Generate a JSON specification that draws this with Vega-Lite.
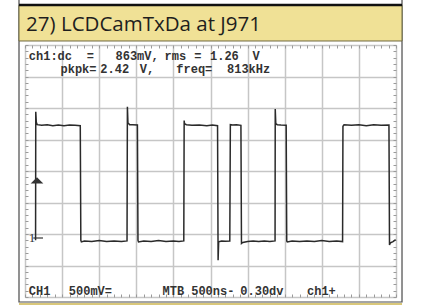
{
  "$schema": "https://vega.github.io/schema/vega-lite/v6.json",
  "width": 371,
  "height": 252,
  "autosize": {"type": "none"},
  "padding": {"left": 25, "top": 45, "right": 33, "bottom": 8},
  "background": "white",
  "config": {"view": {"stroke": null}},
  "data": {"values": [{}]},
  "datasets": {
    "trace": [
      {"x": 0.285, "y": -2.2}, {"x": 0.29, "y": 1.88}, {"x": 0.305, "y": 1.55}, {"x": 0.33, "y": 1.47},
      {"x": 0.45, "y": 1.45}, {"x": 0.6, "y": 1.47}, {"x": 0.75, "y": 1.44}, {"x": 0.9, "y": 1.46},
      {"x": 1.05, "y": 1.44}, {"x": 1.2, "y": 1.46}, {"x": 1.35, "y": 1.45}, {"x": 1.49, "y": 1.44},
      {"x": 1.505, "y": -2.2}, {"x": 1.52, "y": -2.25}, {"x": 1.6, "y": -2.22}, {"x": 1.8, "y": -2.24},
      {"x": 2.0, "y": -2.21}, {"x": 2.2, "y": -2.24}, {"x": 2.4, "y": -2.22}, {"x": 2.6, "y": -2.24},
      {"x": 2.75, "y": -2.22},
      {"x": 2.76, "y": 2.04}, {"x": 2.775, "y": 1.52}, {"x": 2.8, "y": 1.5}, {"x": 2.82, "y": 1.47},
      {"x": 2.9, "y": 1.47}, {"x": 3.03, "y": 1.46},
      {"x": 3.045, "y": -2.2}, {"x": 3.06, "y": -2.25}, {"x": 3.2, "y": -2.22}, {"x": 3.4, "y": -2.24},
      {"x": 3.6, "y": -2.21}, {"x": 3.8, "y": -2.24}, {"x": 4.0, "y": -2.22}, {"x": 4.15, "y": -2.24},
      {"x": 4.28, "y": -2.22},
      {"x": 4.29, "y": 1.6}, {"x": 4.3, "y": 1.5}, {"x": 4.35, "y": 1.47}, {"x": 4.5, "y": 1.45},
      {"x": 4.7, "y": 1.46}, {"x": 4.9, "y": 1.44}, {"x": 5.05, "y": 1.46}, {"x": 5.19, "y": 1.44},
      {"x": 5.205, "y": -2.83}, {"x": 5.22, "y": -2.25}, {"x": 5.3, "y": -2.22}, {"x": 5.4, "y": -2.23},
      {"x": 5.52, "y": -2.22},
      {"x": 5.535, "y": 1.47}, {"x": 5.6, "y": 1.46}, {"x": 5.7, "y": 1.47}, {"x": 5.82, "y": 1.45},
      {"x": 5.835, "y": -2.3}, {"x": 5.87, "y": -2.27}, {"x": 6.0, "y": -2.24}, {"x": 6.15, "y": -2.22},
      {"x": 6.3, "y": -2.24}, {"x": 6.45, "y": -2.22}, {"x": 6.6, "y": -2.24}, {"x": 6.74, "y": -2.22},
      {"x": 6.745, "y": 1.97}, {"x": 6.76, "y": 1.5}, {"x": 6.8, "y": 1.47}, {"x": 6.9, "y": 1.46},
      {"x": 7.04, "y": 1.45},
      {"x": 7.055, "y": -2.22}, {"x": 7.07, "y": -2.25}, {"x": 7.2, "y": -2.22}, {"x": 7.4, "y": -2.24},
      {"x": 7.6, "y": -2.22}, {"x": 7.8, "y": -2.24}, {"x": 8.0, "y": -2.21}, {"x": 8.2, "y": -2.24},
      {"x": 8.4, "y": -2.22}, {"x": 8.56, "y": -2.24},
      {"x": 8.57, "y": 1.42}, {"x": 8.6, "y": 1.47}, {"x": 8.8, "y": 1.45}, {"x": 9.0, "y": 1.47},
      {"x": 9.2, "y": 1.44}, {"x": 9.4, "y": 1.47}, {"x": 9.6, "y": 1.45}, {"x": 9.81, "y": 1.46},
      {"x": 9.825, "y": -2.35}, {"x": 9.85, "y": -2.28}, {"x": 9.92, "y": -2.24}, {"x": 9.99, "y": -2.18}
    ],
    "labels": [
      {"text": "ch1:dc", "t": 0.102, "v": 3.508},
      {"text": "=", "t": 1.663, "v": 3.508},
      {"text": "863mV,", "t": 2.439, "v": 3.508},
      {"text": "rms", "t": 3.76, "v": 3.508},
      {"text": "=", "t": 4.563, "v": 3.508},
      {"text": "1.26", "t": 4.987, "v": 3.508},
      {"text": "V", "t": 6.132, "v": 3.508},
      {"text": "pkpk=", "t": 0.957, "v": 3.102},
      {"text": "2.42", "t": 2.03, "v": 3.102},
      {"text": "V,", "t": 3.094, "v": 3.102},
      {"text": "freq=", "t": 4.078, "v": 3.102},
      {"text": "813kHz", "t": 5.445, "v": 3.102},
      {"text": "CH1", "t": 0.102, "v": -3.937},
      {"text": "500mV=", "t": 1.181, "v": -3.937},
      {"text": "MTB", "t": 3.706, "v": -3.937},
      {"text": "500ns-", "t": 4.48, "v": -3.937},
      {"text": "0.30dv", "t": 5.803, "v": -3.937},
      {"text": "ch1+", "t": 7.601, "v": -3.937}
    ]
  },
  "layer": [
    {
      "mark": {"type": "rect", "fillOpacity": 0, "stroke": "#4a4a4a", "strokeWidth": 1.2},
      "encoding": {
        "x": {"datum": -0.1617, "type": "quantitative", "scale": {"domain": [0, 10], "nice": false, "zero": false}, "axis": null},
        "x2": {"datum": 10.162},
        "y": {"datum": 5.46, "type": "quantitative", "scale": {"domain": [-4, 4], "nice": false, "zero": false}, "axis": null},
        "y2": {"datum": -4.159}
      }
    },
    {
      "mark": {"type": "rect", "fill": "#f0e196", "stroke": "#6f6a40", "strokeWidth": 1},
      "encoding": {
        "x": {"datum": -0.1617, "type": "quantitative", "scale": {"domain": [0, 10], "nice": false, "zero": false}, "axis": null},
        "x2": {"datum": 10.162},
        "y": {"datum": 5.27, "type": "quantitative", "scale": {"domain": [-4, 4], "nice": false, "zero": false}, "axis": null},
        "y2": {"datum": 4.127}
      }
    },
    {
      "mark": {"type": "rule", "color": "#111111", "strokeWidth": 2.5},
      "encoding": {
        "x": {"datum": -0.1617, "type": "quantitative", "scale": {"domain": [0, 10], "nice": false, "zero": false}, "axis": null},
        "x2": {"datum": 10.162},
        "y": {"datum": 5.27, "type": "quantitative", "scale": {"domain": [-4, 4], "nice": false, "zero": false}, "axis": null}
      }
    },
    {
      "mark": {"type": "rule", "color": "#d9c77a", "strokeWidth": 2},
      "encoding": {
        "x": {"datum": -0.1617, "type": "quantitative", "scale": {"domain": [0, 10], "nice": false, "zero": false}, "axis": null},
        "x2": {"datum": 10.162},
        "y": {"datum": -4.222, "type": "quantitative", "scale": {"domain": [-4, 4], "nice": false, "zero": false}, "axis": null}
      }
    },
    {
      "mark": {"type": "text", "text": "27) LCDCamTxDa at J971", "font": "Open Sans", "fontSize": 20.5, "color": "#1e1e1e", "align": "left", "baseline": "alphabetic"},
      "encoding": {
        "x": {"datum": 0.03, "type": "quantitative", "scale": {"domain": [0, 10], "nice": false, "zero": false}, "axis": null},
        "y": {"datum": 4.43, "type": "quantitative", "scale": {"domain": [-4, 4], "nice": false, "zero": false}, "axis": null}
      }
    },
    {
      "data": {"name": "trace"},
      "mark": {"type": "line", "color": "#2a2a2a", "strokeWidth": 1.5, "interpolate": "linear"},
      "encoding": {
        "x": {"field": "x", "type": "quantitative", "scale": {"domain": [0, 10], "nice": false, "zero": false},
          "axis": {"orient": "bottom", "values": [0,0.2,0.4,0.6,0.8,1,1.2,1.4,1.6,1.8,2,2.2,2.4,2.6,2.8,3,3.2,3.4,3.6,3.8,4,4.2,4.4,4.6,4.8,5,5.2,5.4,5.6,5.8,6,6.2,6.4,6.6,6.8,7,7.2,7.4,7.6,7.8,8,8.2,8.4,8.6,8.8,9,9.2,9.4,9.6,9.8,10],
            "grid": true, "gridColor": "#c6c6c6", "gridWidth": 1.5,
            "gridOpacity": {"condition": {"test": "abs(datum.value - round(datum.value)) < 0.001", "value": 1}, "value": 0},
            "ticks": true, "tickSize": -3, "tickColor": "#9a9a9a", "tickWidth": 1, "labels": false, "domain": false, "title": null}},
        "y": {"field": "y", "type": "quantitative", "scale": {"domain": [-4, 4], "nice": false, "zero": false},
          "axis": {"orient": "left", "values": [-4,-3.8,-3.6,-3.4,-3.2,-3,-2.8,-2.6,-2.4,-2.2,-2,-1.8,-1.6,-1.4,-1.2,-1,-0.8,-0.6,-0.4,-0.2,0,0.2,0.4,0.6,0.8,1,1.2,1.4,1.6,1.8,2,2.2,2.4,2.6,2.8,3,3.2,3.4,3.6,3.8,4],
            "grid": true, "gridColor": "#c6c6c6", "gridWidth": 1.5,
            "gridOpacity": {"condition": {"test": "abs(datum.value - round(datum.value)) < 0.001", "value": 1}, "value": 0},
            "ticks": true, "tickSize": -3, "tickColor": "#9a9a9a", "tickWidth": 1, "labels": false, "domain": false, "title": null}}
      }
    },
    {
      "mark": {"type": "point", "shape": "M -1 0.5 L 1 0.5 L 0 -0.5 Z", "filled": true, "color": "#333333", "size": 160, "opacity": 1},
      "encoding": {
        "x": {"datum": 0.323, "type": "quantitative", "scale": {"domain": [0, 10], "nice": false, "zero": false},
          "axis": {"orient": "top", "values": [0,0.2,0.4,0.6,0.8,1,1.2,1.4,1.6,1.8,2,2.2,2.4,2.6,2.8,3,3.2,3.4,3.6,3.8,4,4.2,4.4,4.6,4.8,5,5.2,5.4,5.6,5.8,6,6.2,6.4,6.6,6.8,7,7.2,7.4,7.6,7.8,8,8.2,8.4,8.6,8.8,9,9.2,9.4,9.6,9.8,10],
            "grid": false, "ticks": true, "tickSize": -3, "tickColor": "#9a9a9a", "tickWidth": 1, "labels": false, "domain": false, "title": null}},
        "y": {"datum": -0.3, "type": "quantitative", "scale": {"domain": [-4, 4], "nice": false, "zero": false},
          "axis": {"orient": "right", "values": [-4,-3.8,-3.6,-3.4,-3.2,-3,-2.8,-2.6,-2.4,-2.2,-2,-1.8,-1.6,-1.4,-1.2,-1,-0.8,-0.6,-0.4,-0.2,0,0.2,0.4,0.6,0.8,1,1.2,1.4,1.6,1.8,2,2.2,2.4,2.6,2.8,3,3.2,3.4,3.6,3.8,4],
            "grid": false, "ticks": true, "tickSize": -3, "tickColor": "#9a9a9a", "tickWidth": 1, "labels": false, "domain": false, "title": null}}
      }
    },
    {
      "mark": {"type": "rule", "color": "#333333", "strokeWidth": 1.2},
      "encoding": {
        "x": {"datum": 0.224, "type": "quantitative", "scale": {"domain": [0, 10], "nice": false, "zero": false}, "axis": null},
        "x2": {"datum": 0.485},
        "y": {"datum": -2.127, "type": "quantitative", "scale": {"domain": [-4, 4], "nice": false, "zero": false}, "axis": null}
      }
    },
    {
      "mark": {"type": "text", "text": "1", "font": "Liberation Serif", "fontSize": 13, "color": "#333333", "align": "left", "baseline": "alphabetic"},
      "encoding": {
        "x": {"datum": 0.1, "type": "quantitative", "scale": {"domain": [0, 10], "nice": false, "zero": false}, "axis": null},
        "y": {"datum": -2.24, "type": "quantitative", "scale": {"domain": [-4, 4], "nice": false, "zero": false}, "axis": null}
      }
    },
    {
      "data": {"name": "labels"},
      "mark": {"type": "text", "font": "Liberation Mono", "fontSize": 12, "fontWeight": "bold", "color": "#333333", "align": "left", "baseline": "alphabetic"},
      "encoding": {
        "x": {"field": "t", "type": "quantitative", "scale": {"domain": [0, 10], "nice": false, "zero": false}, "axis": null},
        "y": {"field": "v", "type": "quantitative", "scale": {"domain": [-4, 4], "nice": false, "zero": false}, "axis": null},
        "text": {"field": "text"}
      }
    }
  ],
  "resolve": {"axis": {"x": "independent", "y": "independent"}}
}
